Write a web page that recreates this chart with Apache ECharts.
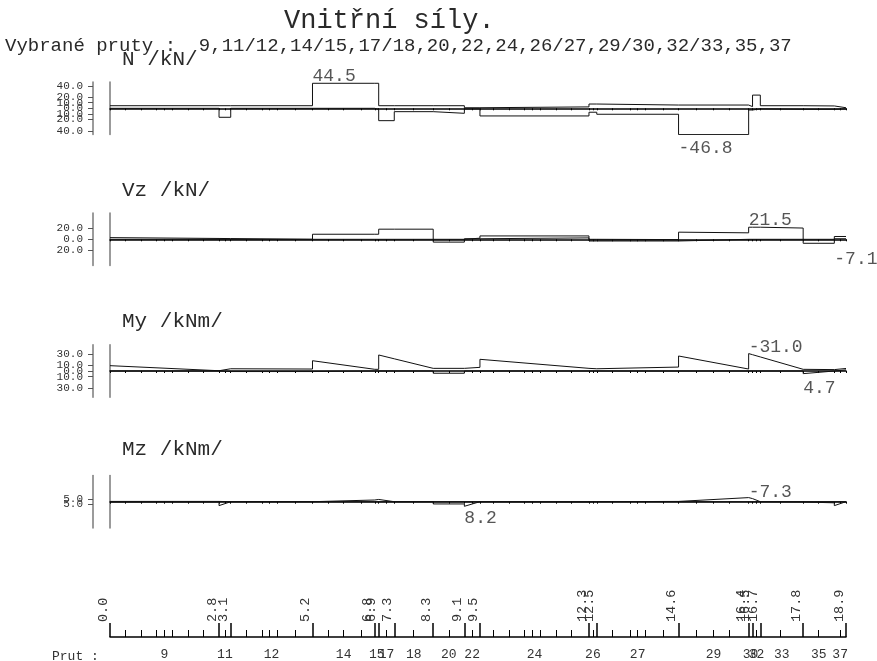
<!DOCTYPE html>
<html>
<head>
<meta charset="utf-8">
<title>Vnitřní síly</title>
<script src="https://cdn.jsdelivr.net/npm/echarts@6/dist/echarts.min.js"></script>
<style>
  html, body { margin: 0; padding: 0; background: #fff; }
  #chart { width: 877px; height: 661px; }
</style>
</head>
<body>
<div id="chart"></div>
<script>
// staničení konců prutů /m/ a popisky
var stations = [0, 2.8, 3.1, 5.2, 6.8, 6.9, 7.3, 8.3, 9.1, 9.5, 12.3, 12.5, 14.6, 16.4, 16.5, 16.7, 17.8, 18.6, 18.9];
var stationLabels = ['0.0', '2.8', '3.1', '5.2', '6.8', '6.9', '7.3', '8.3', '9.1', '9.5', '12.3', '12.5', '14.6', '16.4', '16.5', '16.7', '17.8', '18.6', '18.9'];
var members = ['9', '11', '12', '14', '15', '17', '18', '20', '22', '24', '26', '27', '29', '30', '32', '33', '35', '37'];
// dělení prutů (krátké značky)
var minorTicks = [0.4, 0.8, 1.2, 1.4, 1.6, 2.0, 2.4, 2.95, 3.5, 3.9, 4.1, 4.3, 4.75, 5.6, 6.0, 6.45, 7.1, 7.8,
  8.7, 9.3, 9.85, 10.25, 10.65, 10.85, 11.05, 11.45, 11.85, 12.4, 12.9, 13.35, 13.55, 13.75, 14.2,
  15.05, 15.5, 15.9, 16.6, 17.2, 18.2, 18.75];

// N /kN/ - obalka max / min po prutech
var nUpper = [4.6, 4.6, 4.6, 44.5, 44.5, 4.6, 4.6, 4.6, 1.0, 2.5, 7.6, 5.8, 5.8, 3.0, 23.5, 4.6, 4.2, 1.0];
var nLower = [0, -16, 0, 0, -2, -22, -6, -8.9, -1.0, -13.6, -7.0, -10.6, -46.8, -3.0, -1.0, -1.8, -1.8, -1.0];
var nTicks = [-40, -30, -20, -10, 0, 10, 20, 30, 40];
var nPeaks = [[5.2, 44.5], [14.6, -46.8]];

// Vz /kN/
var vzUpper = [[3, 1.5], [1.5, 1.3], [1.3, 0], 9, 9, 18, 18, 0, 2, 6, 0, -0.5, [12.7, 11.5], 21.5, 21.5, 20, 0, 5];
var vzLower = [0, 0, 0, 0, 0, 0, 0, -5, 1, 2.5, -3, -3, 0, 0, 0, 0, -7.1, 1];
var vzTicks = [-20, -10, 0, 10, 20];
var vzPeaks = [[16.4, 21.5], [18.6, -7.1]];

// My /kNm/ (zaporne nahoru)
var myUpper = [[-9.5, -0.5], -4, [-4, -3.5], [-18.3, -3], -3, [-28.5, -21.7], [-21.7, -4.7], -4.7, -6.5,
  [-20.8, -4.7], -4, [-3.5, -7], [-26.7, -3.5], [-31, -29], [-29, -25], [-25, -3], [0, -2.5], -4.5];
var myLower = [0, 1, 1, 0, 0, 0, 0, 4, 0, 0, 0, 0, 0, 0, 0, 0, [4.7, 0], -2];
var myTicks = [-30, -20, -10, 0, 10, 20, 30];
var myPeaks = [[16.4, -31.0], [17.8, 4.7]];

// Mz /kNm/ (zaporne nahoru)
var mzUpper = [-0.5, [-1, 0], 0, [0, -3], [-3, -4], [-4, 0], 0, 0, 0, 0, 0, [0, -0.5], [-1, -7.3], [-7.3, -5.5], [-5.5, 0], 0, 0, 0];
var mzLower = [0.5, [7, 0], 0, 0, 0, 0, 0, 4, [8.2, 0], 0.5, [4, 0], 0, 0, 0, 0, 0.5, [4, 2], [7, 0]];
var mzTicks = [-5, 0, 5];
var mzPeaks = [[16.4, -7.3], [9.1, 8.2]];

var FONT = '"Liberation Mono", "DejaVu Sans Mono", monospace';
var TXT = '#2a2a2a';
var AXIS_GRAY = '#7a7a7a';

function envelope(vals) {
  var pts = [];
  vals.forEach(function (v, i) {
    var a = Array.isArray(v) ? v[0] : v;
    var b = Array.isArray(v) ? v[1] : v;
    pts.push([stations[i], a], [stations[i + 1], b]);
  });
  return pts;
}

function absMax(list) {
  var m = 0;
  list.forEach(function (v) {
    (Array.isArray(v) ? v : [v]).forEach(function (x) { m = Math.max(m, Math.abs(x)); });
  });
  return m;
}

function nearestIndex(arr, v) {
  var best = 0;
  for (var i = 1; i < arr.length; i++) {
    if (Math.abs(arr[i] - v) < Math.abs(arr[best] - v)) best = i;
  }
  return best;
}

var panels = [
  { title: 'N /kN/', upper: nUpper, lower: nLower, ticks: nTicks, peaks: nPeaks, inverse: false, dist: [-2, 4] },
  { title: 'Vz /kN/', upper: vzUpper, lower: vzLower, ticks: vzTicks, peaks: vzPeaks, inverse: false, dist: [-3, 6] },
  { title: 'My /kNm/', upper: myUpper, lower: myLower, ticks: myTicks, peaks: myPeaks, inverse: true, dist: [-3, 5] },
  { title: 'Mz /kNm/', upper: mzUpper, lower: mzLower, ticks: mzTicks, peaks: mzPeaks, inverse: true, dist: [-4.5, 2] }
];

var yLim = 0;
panels.forEach(function (p) { yLim = Math.max(yLim, absMax(p.upper), absMax(p.lower)); });

var baseY = [108.3, 239.3, 371, 501.7];
var titleY = [59, 190, 321, 449];
var half = 26.3;
var divisions = stations.concat(minorTicks);

var grids = [], xAxes = [], yAxes = [], series = [], graphics = [];

panels.forEach(function (p, i) {
  grids.push({ left: 110, right: 31, top: baseY[i] - half, height: half * 2 });
  xAxes.push({
    type: 'value', gridIndex: i, min: 0, max: 18.9,
    axisLine: { onZero: true, lineStyle: { color: '#000', width: 1.5 } },
    axisTick: { show: true, customValues: divisions, length: 2, lineStyle: { color: '#000', width: 1 } },
    axisLabel: { show: false },
    splitLine: { show: false }
  });
  // osa se stupnici
  yAxes.push({
    type: 'value', gridIndex: i, min: -yLim, max: yLim, inverse: p.inverse,
    position: 'left', offset: 17,
    axisLine: { show: true, onZero: false, lineStyle: { color: AXIS_GRAY, width: 1.5 } },
    axisTick: { show: true, customValues: p.ticks, length: 5, lineStyle: { color: '#555', width: 1 } },
    axisLabel: {
      customValues: p.ticks, margin: 10, fontSize: 11, fontFamily: FONT, color: '#333',
      showMinLabel: true, showMaxLabel: true,
      formatter: function (v) { return Math.abs(v).toFixed(1); }
    },
    splitLine: { show: false }
  });
  // svisla cara na zacatku diagramu
  yAxes.push({
    type: 'value', gridIndex: i, min: -yLim, max: yLim, inverse: p.inverse,
    position: 'left', offset: 0,
    axisLine: { show: true, onZero: false, lineStyle: { color: AXIS_GRAY, width: 1.5 } },
    axisTick: { show: false }, axisLabel: { show: false }, splitLine: { show: false }
  });
  var yIdx = i * 2;
  [p.upper, p.lower].forEach(function (vals) {
    series.push({
      type: 'line', xAxisIndex: i, yAxisIndex: yIdx, data: envelope(vals),
      showSymbol: false, silent: true, animation: false,
      lineStyle: { color: '#111', width: 1 }
    });
  });
  series.push({
    type: 'scatter', xAxisIndex: i, yAxisIndex: yIdx, symbolSize: 1, silent: true, animation: false,
    itemStyle: { color: 'transparent' },
    data: p.peaks.map(function (pk, k) {
      return {
        value: pk,
        label: { show: true, position: k === 0 ? 'top' : 'bottom', distance: p.dist[k], align: 'left' }
      };
    }),
    label: {
      fontSize: 18, fontFamily: FONT, color: TXT,
      formatter: function (d) { return d.value[1].toFixed(1); }
    }
  });
  graphics.push({
    type: 'text', x: 122, y: titleY[i],
    style: { text: p.title, font: '21px ' + FONT, fill: TXT, verticalAlign: 'middle' }
  });
});

// spodni osa se staničením a čísly prutů
var bi = panels.length;
grids.push({ left: 110, right: 31, top: 600, height: 40 });
yAxes.push({ type: 'value', gridIndex: bi, min: 0, max: 1, show: false });
var midpoints = members.map(function (m, i) { return (stations[i] + stations[i + 1]) / 2; });
xAxes.push({
  type: 'value', gridIndex: bi, min: 0, max: 18.9, position: 'bottom',
  axisLine: { onZero: false, lineStyle: { color: '#000', width: 1.5 } },
  axisTick: { customValues: stations, inside: true, length: 14, lineStyle: { color: '#000', width: 1.5 } },
  axisLabel: {
    customValues: stations, inside: true, rotate: 90, margin: 15, verticalAlign: 'bottom',
    fontSize: 13.5, fontFamily: FONT, color: '#333', showMinLabel: true, showMaxLabel: true,
    formatter: function (v) { return stationLabels[nearestIndex(stations, v)]; }
  },
  splitLine: { show: false }
});
xAxes.push({
  type: 'value', gridIndex: bi, min: 0, max: 18.9, position: 'bottom',
  axisLine: { show: false, onZero: false },
  axisTick: { customValues: minorTicks, inside: true, length: 7, lineStyle: { color: '#000', width: 1 } },
  axisLabel: { show: false }, splitLine: { show: false }
});
xAxes.push({
  type: 'value', gridIndex: bi, min: 0, max: 18.9, position: 'bottom',
  axisLine: { show: false, onZero: false }, axisTick: { show: false },
  axisLabel: {
    customValues: midpoints, margin: 11, fontSize: 13, fontFamily: FONT, color: '#333',
    showMinLabel: true, showMaxLabel: true,
    formatter: function (v) { return members[nearestIndex(midpoints, v)]; }
  },
  splitLine: { show: false }
});

graphics.push(
  { type: 'text', x: 52, y: 657, style: { text: 'Prut :', font: '13px ' + FONT, fill: '#333', verticalAlign: 'middle' } },
  { type: 'text', x: 284, y: 21, style: { text: 'Vnitřní síly.', font: '27px ' + FONT, fill: TXT, verticalAlign: 'middle' } },
  { type: 'text', x: 5, y: 46, style: { text: 'Vybrané pruty :  9,11/12,14/15,17/18,20,22,24,26/27,29/30,32/33,35,37', font: '19px ' + FONT, fill: TXT, verticalAlign: 'middle' } }
);

var chart = echarts.init(document.getElementById('chart'));
chart.setOption({
  backgroundColor: '#fff',
  animation: false,
  grid: grids,
  xAxis: xAxes,
  yAxis: yAxes,
  series: series,
  graphic: graphics
});
</script>
</body>
</html>
